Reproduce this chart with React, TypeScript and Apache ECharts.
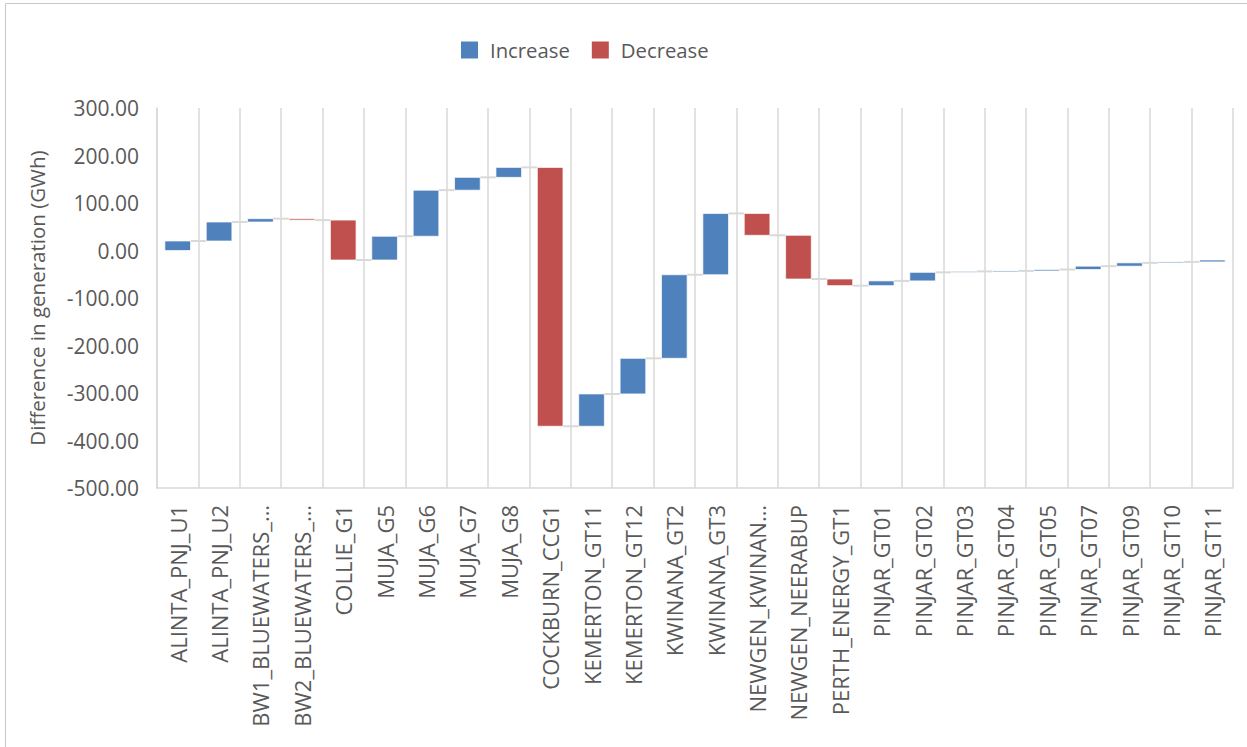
import React, { useEffect, useRef } from "react";
import * as echarts from "echarts";

const categories = [
  "ALINTA_PNJ_U1", "ALINTA_PNJ_U2", "BW1_BLUEWATERS_…", "BW2_BLUEWATERS_…", "COLLIE_G1",
  "MUJA_G5", "MUJA_G6", "MUJA_G7", "MUJA_G8", "COCKBURN_CCG1", "KEMERTON_GT11",
  "KEMERTON_GT12", "KWINANA_GT2", "KWINANA_GT3", "NEWGEN_KWINAN…", "NEWGEN_NEERABUP",
  "PERTH_ENERGY_GT1", "PINJAR_GT01", "PINJAR_GT02", "PINJAR_GT03", "PINJAR_GT04",
  "PINJAR_GT05", "PINJAR_GT07", "PINJAR_GT09", "PINJAR_GT10", "PINJAR_GT11",
];

// Change in generation (GWh) per unit
const deltas = [
  20, 40, 7, -3, -84,
  50, 97, 27, 21, -545, 68,
  75, 176, 129, -46, -92,
  -14, 10, 18, 2, 1,
  3, 7, 7, 2, 4,
];

const yTicks = { min: -500, max: 300, interval: 100 };

const FONT = "Open Sans";
const BLUE = "#4F81BD";
const RED = "#C0504D";

export default function App() {
  const ref = useRef<HTMLDivElement>(null);
  useEffect(() => {
    if (!ref.current) return;
    const chart = echarts.init(ref.current, undefined, { renderer: "svg" });

    const inc: number[][] = [];
    const dec: number[][] = [];
    const conn: number[][] = [];
    let total = 0;
    deltas.forEach((d, i) => {
      const start = total;
      total += d;
      if (d >= 0) inc.push([i, start, total]);
      else dec.push([i, start, total]);
      if (i < deltas.length - 1) conn.push([i, total]);
    });

    const BAR_RATIO = 0.62;
    const barRender = (color: string) => (params: any, api: any) => {
      const i = api.value(0);
      const p1 = api.coord([i, api.value(1)]);
      const p2 = api.coord([i, api.value(2)]);
      const w = api.size([1, 0])[0] * BAR_RATIO;
      const y = Math.min(p1[1], p2[1]);
      const h = Math.max(Math.abs(p1[1] - p2[1]), 1);
      return {
        type: "rect",
        shape: { x: p1[0] - w / 2, y, width: w, height: h },
        style: { fill: color, stroke: "rgba(255,255,255,0.7)", lineWidth: 1 },
      };
    };

    const connRender = (params: any, api: any) => {
      const i = api.value(0);
      const p1 = api.coord([i, api.value(1)]);
      const p2 = api.coord([i + 1, api.value(1)]);
      const w = api.size([1, 0])[0] * BAR_RATIO;
      return {
        type: "line",
        shape: { x1: p1[0] + w / 2, y1: p1[1], x2: p2[0] - w / 2, y2: p2[1] },
        style: { stroke: "#d9d9d9", lineWidth: 2 },
      };
    };

    chart.setOption({
      animation: false,
      backgroundColor: "#ffffff",
      textStyle: { fontFamily: FONT },
      graphic: [
        {
          type: "rect",
          shape: { x: 5.5, y: 3.5, width: 1260, height: 760 },
          style: { fill: "none", stroke: "#c8c8c8", lineWidth: 1 },
          silent: true,
        },
      ],
      legend: {
        left: 461,
        top: 40,
        padding: 0,
        itemWidth: 17,
        itemHeight: 17,
        itemGap: 22,
        icon: "rect",
        data: ["Increase", "Decrease"],
        textStyle: { fontFamily: FONT, fontSize: 20.3, color: "#595959", padding: [0, 0, 0, 7] },
      },
      grid: { left: 157, right: 14, top: 108, bottom: 259, containLabel: false },
      xAxis: {
        type: "category",
        data: categories,
        boundaryGap: true,
        axisLine: { show: true, onZero: false, lineStyle: { color: "#d9d9d9", width: 1.5 } },
        axisTick: { show: false },
        splitLine: { show: true, lineStyle: { color: "#d9d9d9", width: 1.5 } },
        axisLabel: {
          interval: 0,
          rotate: 90,
          margin: 17,
          fontFamily: FONT,
          fontSize: 22,
          color: "#595959",
        },
      },
      yAxis: {
        type: "value",
        min: yTicks.min,
        max: yTicks.max,
        interval: yTicks.interval,
        name: "Difference in generation (GWh)",
        nameLocation: "middle",
        nameRotate: 90,
        nameGap: 110,
        nameTextStyle: { fontFamily: FONT, fontSize: 20.5, color: "#595959" },
        axisLine: { show: true, lineStyle: { color: "#d9d9d9", width: 1.5 } },
        axisTick: { show: false },
        splitLine: { show: false },
        axisLabel: {
          margin: 18,
          fontFamily: FONT,
          fontSize: 21,
          color: "#595959",
          formatter: (v: number) => v.toFixed(2),
        },
      },
      series: [
        {
          name: "Connector",
          type: "custom",
          renderItem: connRender,
          data: conn,
          encode: { x: 0, y: 1 },
          silent: true,
          z: 1,
        },
        {
          name: "Increase",
          type: "custom",
          renderItem: barRender(BLUE),
          data: inc,
          encode: { x: 0, y: [1, 2] },
          itemStyle: { color: BLUE },
          z: 2,
        },
        {
          name: "Decrease",
          type: "custom",
          renderItem: barRender(RED),
          data: dec,
          encode: { x: 0, y: [1, 2] },
          itemStyle: { color: RED },
          z: 2,
        },
      ],
    });
    return () => chart.dispose();
  }, []);

  return (
    <div
      ref={ref}
      style={{ position: "fixed", left: 0, top: 0, width: 1247, height: 747 }}
    />
  );
}
